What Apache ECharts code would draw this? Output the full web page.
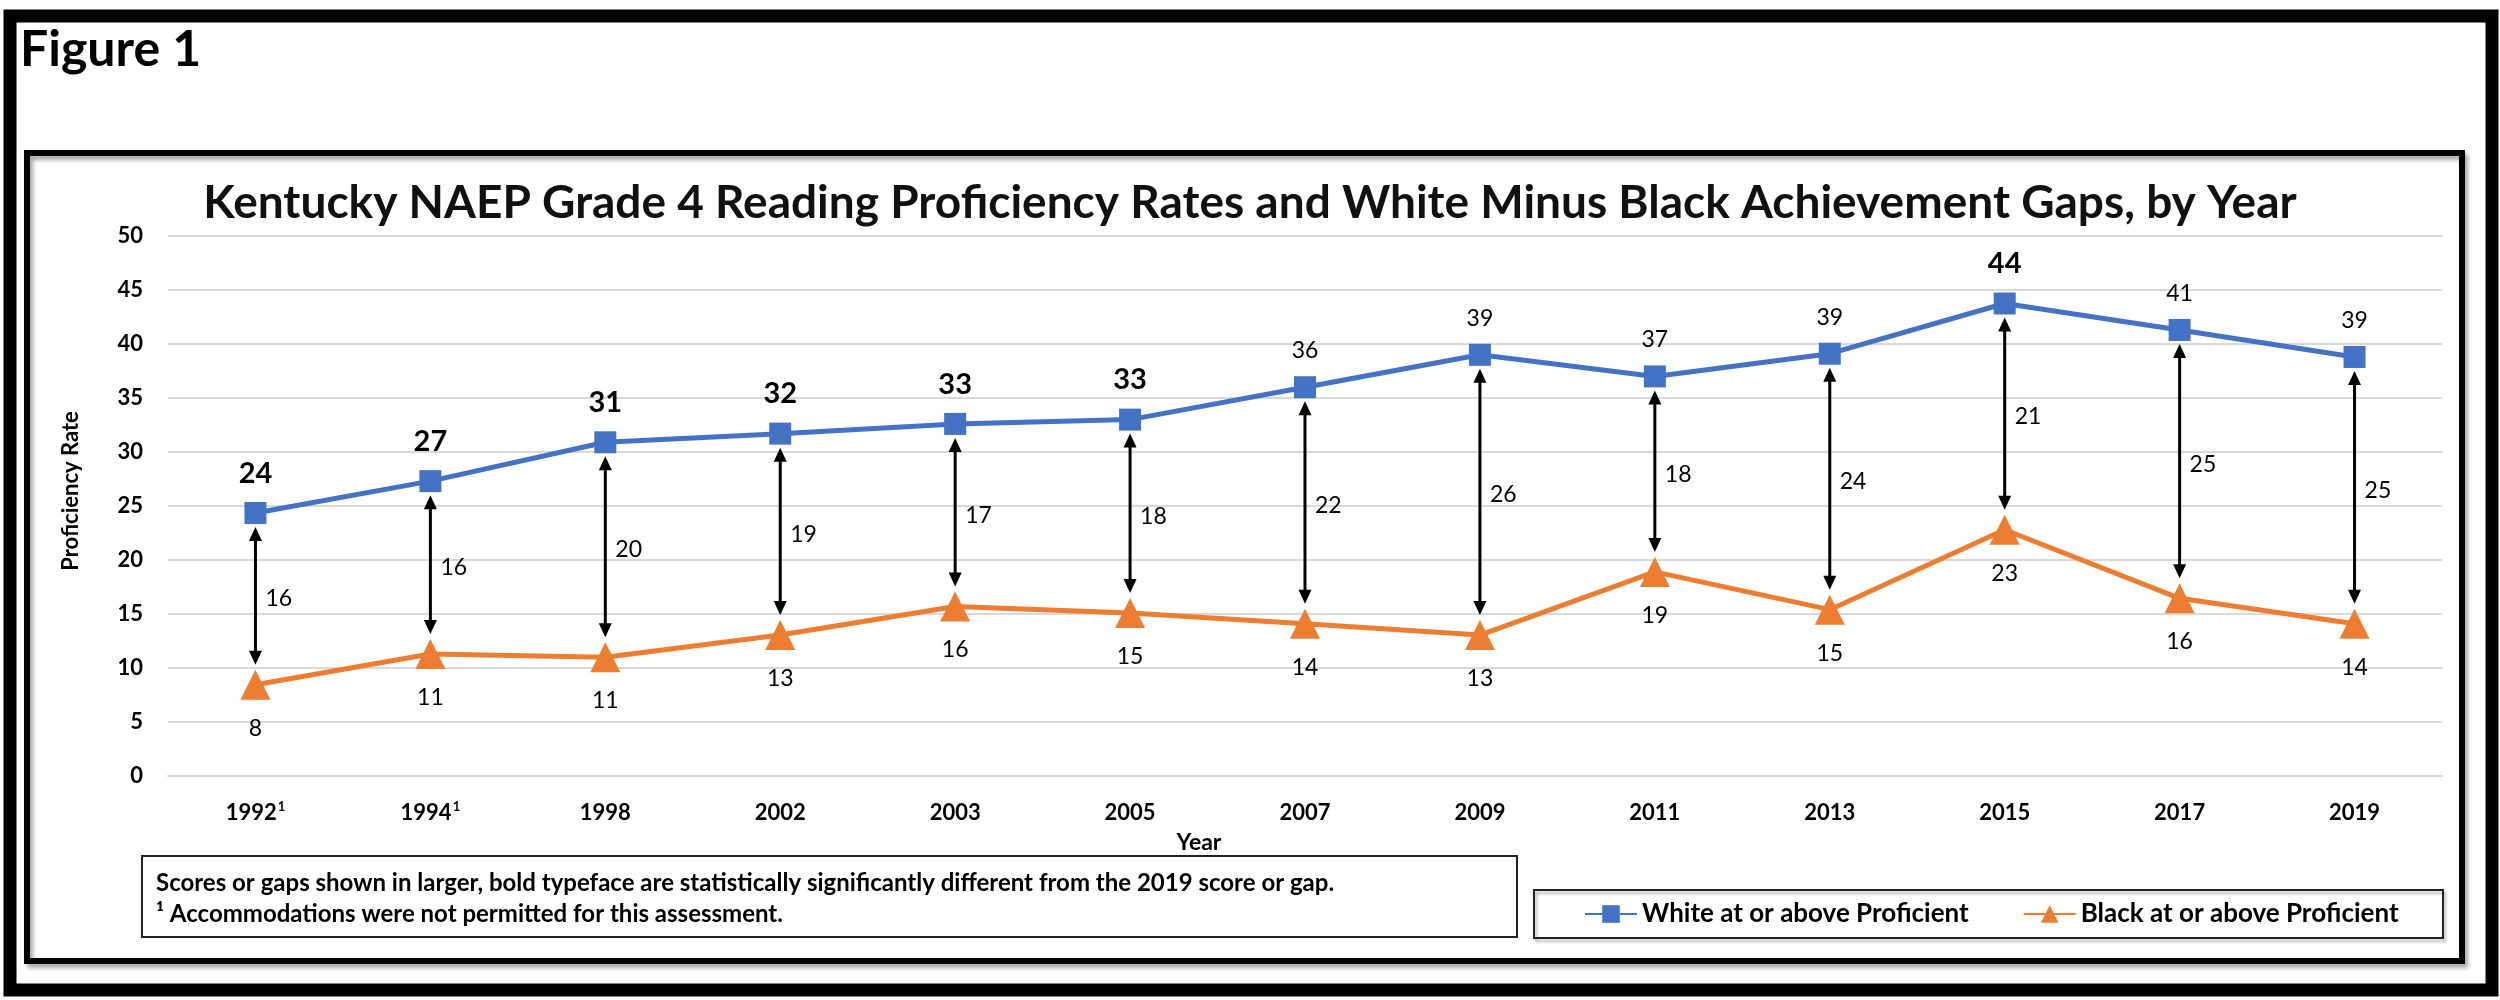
<!DOCTYPE html>
<html>
<head>
<meta charset="utf-8">
<title>Kentucky NAEP Grade 4 Reading</title>
<script src="https://cdn.jsdelivr.net/npm/echarts@6/dist/echarts.min.js"></script>
<style>
  html, body { margin: 0; padding: 0; background: #fff; }
  #chart { width: 2500px; height: 1000px; }
</style>
</head>
<body>
<div id="chart"></div>
<script>
// data
var years = ['1992', '1994', '1998', '2002', '2003', '2005', '2007', '2009', '2011', '2013', '2015', '2017', '2019'];
var footnoteYears = ['1992', '1994'];
var white = [24.35, 27.3, 30.9, 31.7, 32.6, 33.0, 36.0, 39.0, 37.0, 39.1, 43.75, 41.3, 38.8];
var black = [8.45, 11.3, 11.0, 13.05, 15.7, 15.1, 14.1, 13.05, 18.9, 15.4, 22.8, 16.45, 14.1];
var gaps = [16, 16, 20, 19, 17, 18, 22, 26, 18, 24, 21, 25, 25];
// 1 = significantly different from 2019 (shown larger, bold)
var whiteSignificant = [1, 1, 1, 1, 1, 1, 0, 0, 0, 0, 1, 0, 0];

var FONT = 'Lato, "Open Sans", sans-serif';
var BLUE = '#4472C4';
var ORANGE = '#ED7D31';

var chart = echarts.init(document.getElementById('chart'));

// white points with per-point label weight
var whiteData = white.map(function (v, i) {
    var sig = whiteSignificant[i] === 1;
    return {
        value: v,
        label: {
            fontSize: sig ? 29 : 23,
            fontWeight: sig ? 'bold' : 'normal'
        }
    };
});

var gapData = years.map(function (y, i) {
    return [i, white[i], black[i], gaps[i]];
});

// double headed arrow between the two series
function renderGap(params, api) {
    var top = api.coord([api.value(0), api.value(1)]);
    var bot = api.coord([api.value(0), api.value(2)]);
    var mid = api.coord([api.value(0), (api.value(1) + api.value(2)) / 2]);
    var x = top[0];
    var y1 = top[1] + 14;
    var y2 = bot[1] - 20;
    var hl = 14, hw = 6.5;
    return {
        type: 'group',
        children: [
            {
                type: 'line',
                shape: { x1: x, y1: y1 + hl - 2, x2: x, y2: y2 - hl + 2 },
                style: { stroke: '#000', lineWidth: 3 }
            },
            {
                type: 'polygon',
                shape: { points: [[x, y1], [x - hw, y1 + hl], [x + hw, y1 + hl]] },
                style: { fill: '#000' }
            },
            {
                type: 'polygon',
                shape: { points: [[x, y2], [x - hw, y2 - hl], [x + hw, y2 - hl]] },
                style: { fill: '#000' }
            },
            {
                type: 'text',
                x: x + 10,
                y: mid[1],
                style: {
                    text: String(api.value(3)),
                    fill: '#000',
                    font: '23px ' + FONT,
                    align: 'left',
                    verticalAlign: 'middle'
                }
            }
        ]
    };
}

var option = {
    backgroundColor: '#fff',
    animation: false,
    textStyle: { fontFamily: FONT },
    title: {
        text: 'Kentucky NAEP Grade 4 Reading Proficiency Rates and White Minus Black Achievement Gaps, by Year',
        left: 'center',
        top: 175,
        textStyle: { fontFamily: FONT, fontSize: 46, fontWeight: 'bold', color: '#111' }
    },
    grid: { left: 168, right: 58, top: 236, bottom: 224, containLabel: false },
    legend: {
        left: 1584,
        top: 901,
        padding: 0,
        itemWidth: 52,
        itemHeight: 22,
        itemGap: 54,
        textStyle: { fontFamily: FONT, fontSize: 26, fontWeight: 'bold', color: '#000' },
        data: ['White at or above Proficient', 'Black at or above Proficient']
    },
    xAxis: {
        type: 'category',
        data: years,
        boundaryGap: true,
        axisLine: { show: true, lineStyle: { color: '#d9d9d9', width: 2 } },
        axisTick: { show: false },
        axisLabel: {
            margin: 24,
            color: '#000',
            formatter: function (v) {
                return footnoteYears.indexOf(v) >= 0 ? '{y|' + v + '}{sup|1}' : '{y|' + v + '}';
            },
            rich: {
                y: { fontFamily: FONT, fontSize: 22, fontWeight: 'bold', lineHeight: 26, color: '#000' },
                sup: { fontFamily: FONT, fontSize: 13, fontWeight: 'bold', lineHeight: 13, verticalAlign: 'top', padding: [0, 0, 0, 1], color: '#000' }
            }
        }
    },
    yAxis: {
        type: 'value',
        min: 0,
        max: 50,
        interval: 5,
        axisLine: { show: false },
        axisTick: { show: false },
        axisLabel: { margin: 25, color: '#000', fontFamily: FONT, fontSize: 22, fontWeight: 'bold' },
        splitLine: { lineStyle: { color: '#d9d9d9', width: 2 } }
    },
    series: [
        {
            name: 'White at or above Proficient',
            type: 'line',
            data: whiteData,
            symbol: 'rect',
            symbolSize: 22,
            lineStyle: { color: BLUE, width: 5 },
            itemStyle: { color: BLUE },
            label: {
                show: true,
                position: 'top',
                distance: 14,
                color: '#000',
                fontFamily: FONT,
                formatter: function (p) { return Math.round(p.value); }
            },
            z: 3
        },
        {
            name: 'Black at or above Proficient',
            type: 'line',
            data: black,
            symbol: 'triangle',
            symbolSize: 30,
            lineStyle: { color: ORANGE, width: 5 },
            itemStyle: { color: ORANGE },
            label: {
                show: true,
                position: 'bottom',
                distance: 17,
                color: '#000',
                fontFamily: FONT,
                fontSize: 23,
                formatter: function (p) { return Math.round(p.value); }
            },
            z: 3
        },
        {
            type: 'custom',
            name: 'gap',
            data: gapData,
            renderItem: renderGap,
            silent: true,
            z: 4
        }
    ],
    graphic: [
        {
            type: 'rect',
            shape: { x: 10, y: 16, width: 2482, height: 974 },
            style: { fill: 'none', stroke: '#000', lineWidth: 13 },
            silent: true
        },
        {
            type: 'text',
            x: 20,
            y: 50,
            style: {
                text: 'Figure 1',
                font: 'bold 50px ' + FONT,
                fill: '#000',
                verticalAlign: 'middle'
            }
        },
        {
            type: 'rect',
            shape: { x: 27, y: 153, width: 2435, height: 808 },
            style: {
                fill: 'none', stroke: '#000', lineWidth: 6,
                shadowColor: 'rgba(0,0,0,0.35)', shadowBlur: 4, shadowOffsetX: 3, shadowOffsetY: 4
            },
            silent: true
        },
        {
            type: 'text',
            x: 71,
            y: 491,
            rotation: Math.PI / 2,
            style: {
                text: 'Proficiency Rate',
                font: 'bold 22px ' + FONT,
                fill: '#000',
                align: 'center',
                verticalAlign: 'middle'
            }
        },
        {
            type: 'text',
            x: 1199,
            y: 843,
            style: {
                text: 'Year',
                font: 'bold 23px ' + FONT,
                fill: '#000',
                align: 'center',
                verticalAlign: 'middle'
            }
        },
        {
            type: 'rect',
            shape: { x: 142, y: 856, width: 1375, height: 81 },
            style: { fill: 'none', stroke: '#222', lineWidth: 2 },
            silent: true
        },
        {
            type: 'text',
            x: 156,
            y: 883,
            style: {
                text: 'Scores or gaps shown in larger, bold typeface are statistically significantly different from the 2019 score or gap.',
                font: 'bold 24px ' + FONT,
                fill: '#000',
                verticalAlign: 'middle'
            }
        },
        {
            type: 'text',
            x: 156,
            y: 914,
            style: {
                text: '\u00b9 Accommodations were not permitted for this assessment.',
                font: 'bold 24px ' + FONT,
                fill: '#000',
                verticalAlign: 'middle'
            }
        },
        {
            type: 'rect',
            shape: { x: 1534, y: 890, width: 909, height: 48 },
            style: {
                fill: 'none', stroke: '#222', lineWidth: 2,
                shadowColor: 'rgba(0,0,0,0.3)', shadowBlur: 3, shadowOffsetX: 2, shadowOffsetY: 3
            },
            silent: true
        }
    ]
};

chart.setOption(option);
</script>
</body>
</html>
